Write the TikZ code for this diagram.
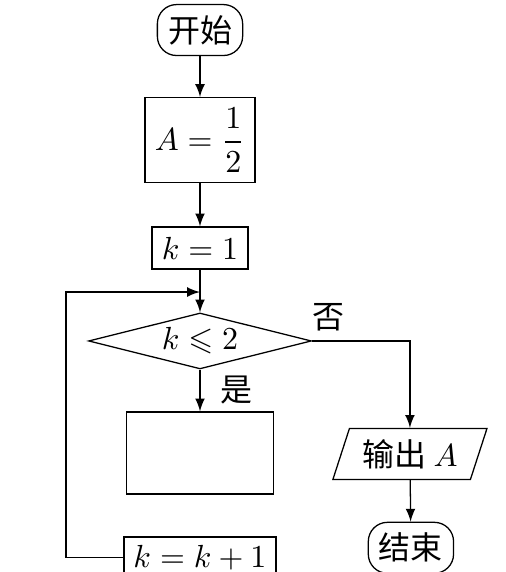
\documentclass[tikz,border=0pt]{standalone}
\usepackage{amsmath}
\usepackage{amssymb}
\usepackage{fontspec}
\newfontfamily\cjk{Noto Sans CJK SC}
\usetikzlibrary{shapes.geometric}

\begin{document}
\begin{tikzpicture}[proc/.style={draw, rectangle, inner sep=2pt},
	term/.style={draw, rectangle, rounded corners=6pt, minimum width=0.92cm, minimum height=0.56cm},
	flow/.style={->, >=latex}]
				\useasboundingbox (0, 0) rectangle (5.56, -6.286);
				\node[term] (Start)at(2.198, -0.33) {\cjk 开始};
				\node[proc, minimum width=1.21cm, minimum height=0.93cm] (A)at(2.198, -1.538) {$A=\dfrac{1}{2}$};
				\node[proc, minimum width=1.055cm, minimum height=0.46cm] (K1)at(2.198, -2.725) {$k=1$};
				\coordinate (Join)at(2.198, -3.209);
				\node[draw, diamond, aspect=4, inner sep=1pt, minimum width=2.45cm, minimum height=0.615cm] (Cond)at(2.198, -3.747) {$k\leqslant 2$};
				\node[proc, minimum width=1.615cm, minimum height=0.9cm] (Body)at(2.198, -4.978) {};
				\node[proc, minimum width=1.67cm, minimum height=0.46cm] (Inc)at(2.198, -6.13) {$k=k+1$};
				\node[draw, trapezium, trapezium left angle=72, trapezium right angle=108, inner xsep=4pt, minimum height=0.56cm] (Out)at(4.505, -4.989) {\cjk 输出 \rm$A$};
				\node[term] (End)at(4.516, -6.02) {\cjk 结束};
				\draw[flow] (Start) -- (A);
				\draw[flow] (A) -- (K1);
				\draw[flow] (K1) -- (Cond);
				\draw[flow] (Cond) -- node[right, xshift=3pt] {\cjk 是} (Body);
				\draw[flow] (Cond.east) node[above right, inner sep=1pt, xshift=-1pt, yshift=2pt] {\cjk 否} -| (Out.north);
				\draw[flow] (Out) -- (End);
				\draw[flow] (Inc.west) -- ++(-0.63, 0) |- (Join);
			\end{tikzpicture}
\end{document}
